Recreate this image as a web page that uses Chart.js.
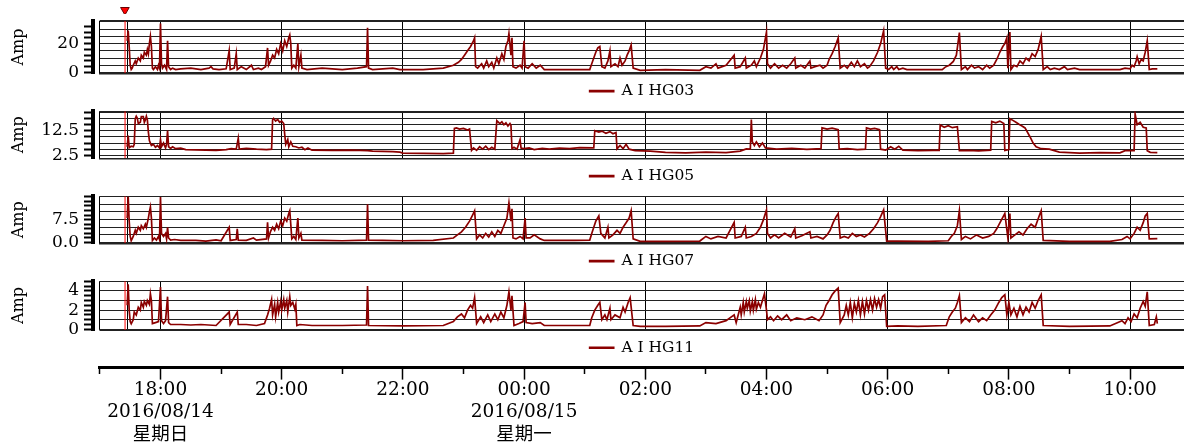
<!DOCTYPE html>
<html><head><meta charset="utf-8">
<script src="https://cdn.jsdelivr.net/npm/chart.js@4.4.1/dist/chart.umd.min.js"></script>
<style>
html,body{margin:0;padding:0;background:#fff;overflow:hidden;width:1184px;height:445px;}
#wrap{position:relative;width:1184px;height:445px;overflow:hidden;background:#fff;}
canvas{position:absolute;left:0;}
</style></head><body><div id="wrap">
<canvas id="c1" width="1184" height="110" style="top:0px"></canvas>
<canvas id="c2" width="1184" height="100" style="top:96px"></canvas>
<canvas id="c3" width="1184" height="100" style="top:181px"></canvas>
<canvas id="c4" width="1184" height="100" style="top:266px"></canvas>
<canvas id="c5" width="1184" height="90" style="top:355px"></canvas>
<canvas id="c0" width="1184" height="20" style="top:0px"></canvas>
</div>
<script>
// ---- data: [minutes after 2016/08/14 17:00, amps] ----
const hg03Points = [[27,22],[28,29],[29,18],[30,5],[31,2],[32,3],[33,5],[35,8],[36,6],[38,10],[40,8],[41,12],[43,10],[44,14],[46,12],[47,16],[48,13],[49,20],[50,25],[51,18],[52,3],[53,2],[55,4],[57,2],[58,5],[59,3],[60,34],[61,6],[62,3],[64,5],[66,2],[67,22],[68,4],[70,2],[72,3],[75,2],[80,2.5],[90,3],[100,2],[108,3],[110,4],[112,2.5],[118,2],[125,2.5],[128,15],[129,2],[133,3],[135,13],[136,2],[140,4],[145,2],[150,5],[152,2],[157,3],[160,2],[164,4],[166,17],[167,5],[169,8],[171,12],[173,10],[175,16],[177,13],[179,20],[181,15],[183,22],[185,18],[187,24],[188,26],[189,20],[190,3],[192,5],[194,3],[196,20],[197,4],[199,12],[200,3],[205,2],[220,3],[240,2],[255,3],[264,4],[265,31],[266,3],[270,2],[290,3],[297,2],[320,2],[340,3],[350,5],[355,7],[358,9],[361,12],[364,15],[367,18],[370,22],[371,24],[372,4],[374,3],[378,6],[380,3],[383,8],[385,4],[388,7],[390,3],[393,10],[395,6],[398,13],[400,9],[402,18],[404,22],[405,27],[407,12],[408,24],[409,4],[412,3],[416,5],[418,3],[420,22],[421,4],[424,3],[428,6],[432,3],[436,5],[440,2],[460,2],[485,2],[487,6],[489,10],[491,14],[493,17],[495,18],[497,4],[500,3],[503,8],[505,15],[506,4],[510,6],[513,4],[515,10],[517,5],[520,8],[522,12],[524,15],[526,19],[528,3],[535,1.5],[560,2],[594,1.5],[600,4],[605,3],[610,6],[612,3],[620,5],[628,12],[629,3],[634,4],[639,10],[640,3],[645,5],[648,8],[650,4],[654,10],[657,16],[660,28],[661,6],[664,3],[668,6],[672,3],[676,5],[680,3],[684,6],[688,10],[689,3],[694,5],[698,3],[703,8],[704,3],[708,4],[713,5],[716,3],[720,5],[722,9],[725,13],[728,18],[731,24],[733,3],[737,5],[740,3],[744,7],[747,4],[750,8],[753,4],[757,6],[760,3],[762,4],[766,8],[770,14],[773,20],[776,29],[778,3],[781,2],[784,4],[786,2],[789,4],[791,2],[795,3],[799,2],[834,2],[837,3.7],[841,5],[845,7.6],[848,12],[851,27.6],[853,2],[857,4],[859,2],[863,5],[866,3],[870,4],[874,2],[878,5],[881,3],[885,5],[888,9],[891,14],[894,18],[896,20],[898,24],[899,3],[901,28],[902,2],[905,5],[908,4],[911,8],[914,6],[917,10],[920,8],[923,13],[926,11],[929,16],[932,25],[934,2],[938,4],[941,2],[945,3],[950,2],[955,4],[958,2],[965,3],[970,2],[1010,2],[1015,3],[1020,2.5],[1022,5],[1024,4],[1026,8],[1027,11],[1029,6],[1031,9],[1033,8],[1035,14],[1037,22],[1039,2],[1042,2.5],[1047,2.5]];

const hg05Points = [[27,6],[28,10.6],[29,5.6],[31,6.2],[33,6],[34,7],[35,17.5],[36,18.5],[37,17.8],[38,15.5],[40,16],[41,18.3],[43,18.3],[44,16],[45,17],[46,18.5],[47,17],[48,12],[49,8.5],[50,7.5],[51,6.5],[53,7],[55,5.8],[57,6.5],[59,5.5],[60,8.9],[61,6],[63,7.5],[65,5.5],[66,7],[67,12.6],[68,6],[70,5.3],[72,6],[75,5.2],[80,5.4],[85,4.8],[95,4.7],[105,4.6],[115,4.5],[125,4.8],[130,5.2],[135,5],[137,9.5],[138,5],[145,5.3],[155,5],[165,4.8],[170,5],[171,17],[172,17.6],[174,16.5],[176,17.2],[178,16],[180,16.5],[182,15.5],[183,11],[184,7],[186,9],[187,6],[189,8],[191,6.2],[194,6],[197,5.5],[200,5.8],[203,4.8],[206,5.5],[210,4.6],[230,4.5],[250,4.6],[265,4.4],[270,4.2],[290,4],[297,3.8],[300,3.4],[320,3.3],[340,3.2],[350,3.4],[351,13.5],[353,13.7],[356,13.2],[360,13.5],[364,12.8],[366,13.2],[368,4.5],[370,5.5],[373,4.5],[376,6],[379,5],[382,6.2],[385,4.8],[388,5.8],[391,5],[393,16.7],[396,15.5],[398,16.2],[400,15],[402,15.8],[404,14.5],[406,15.5],[407,14.8],[408,5.2],[410,5.8],[413,5],[416,8.9],[417,5.5],[420,5.2],[425,5.5],[430,4.8],[438,5.3],[445,5],[455,5.4],[465,5.2],[475,5.6],[489,5.5],[490,12.6],[494,12],[497,12.4],[501,11.5],[505,12.2],[508,11.3],[511,11.8],[512,5.1],[515,6.5],[518,5.2],[521,7],[524,5],[530,4.4],[545,4.2],[560,3.7],[580,3.5],[600,3.8],[620,3.6],[634,4.2],[640,5.1],[644,5],[645,17.1],[646,8],[648,6.5],[650,8],[653,6],[656,7.5],[659,5.5],[670,5],[685,5.3],[700,4.9],[714,5.2],[715,13.7],[720,13.2],[725,13.6],[731,13],[732,5],[740,5.2],[750,4.8],[758,5],[759,13.7],[763,13.2],[767,13.5],[772,13],[773,5],[778,4.6],[783,6],[787,5],[791,6.2],[795,4.6],[810,4.4],[825,4.5],[831,4.5],[832,14.9],[836,14],[840,14.6],[844,13.8],[849,14.2],[851,4.4],[860,4.5],[870,4.3],[882,4.6],[883,16.4],[887,15.8],[891,16.5],[895,15.5],[896,4.5],[900,4.8],[901,17.5],[904,16.8],[907,16],[910,15.2],[913,14.5],[916,13.7],[921,10],[924,7.5],[927,6],[932,5.2],[940,5],[950,3.8],[970,3.4],[990,3.6],[1010,3.5],[1015,4.4],[1024,4.4],[1025,19.4],[1027,15],[1030,16],[1033,14],[1036,13.7],[1037,4.4],[1040,3.7],[1047,3.6]];

const hg07Points = [[27,8],[28,15],[29,7],[30,2],[31,0.6],[33,2],[35,4],[36,3],[38,5],[40,4],[41,5.5],[43,4.5],[45,6],[46,5],[48,8],[49,10],[50,11.6],[51,8],[52,0.7],[54,1.5],[56,0.8],[58,2],[59,1],[60,14.9],[61,3],[63,2],[65,3],[66,1.2],[67,5],[68,1.5],[70,0.8],[74,1],[80,0.7],[95,0.7],[105,0.5],[115,0.9],[120,0.6],[128,5],[129,0.7],[135,1],[136,4.5],[137,0.8],[145,0.7],[152,1.5],[155,0.8],[165,1.2],[166,6.6],[167,1.5],[169,3.7],[171,5],[173,4],[175,6],[177,4.5],[179,7],[181,5.5],[183,8],[185,7],[187,9.5],[188,10.4],[189,6],[190,1.2],[192,2],[194,1],[196,8],[197,1.5],[199,3],[200,0.8],[220,0.7],[240,0.6],[264,0.8],[265,12.5],[266,0.8],[280,0.7],[300,0.6],[330,0.7],[350,1.5],[354,2.5],[358,3.5],[362,5],[366,7],[369,9],[371,10.4],[373,1.2],[376,2.5],[379,1.5],[382,3],[385,1.8],[388,3.5],[391,2],[394,4],[397,3],[400,5.5],[403,8],[405,13],[407,7],[408,11],[409,1.5],[412,1.2],[416,2],[419,1.2],[421,8],[422,1.5],[426,1.5],[430,2.5],[436,1.2],[440,0.7],[470,0.7],[485,0.8],[487,3],[489,5],[491,7],[494,8.7],[496,3],[500,1.5],[503,5],[504,1.5],[508,2.5],[512,4],[515,3],[518,5],[521,6.5],[524,8],[526,10.4],[528,1.2],[535,0.4],[560,0.4],[594,0.5],[600,2],[605,1.2],[612,2],[620,1.5],[628,6.6],[629,1.5],[635,2],[639,5],[640,1.5],[645,2],[650,3],[654,5],[657,7.5],[660,10.7],[661,3],[664,1.5],[668,2.5],[672,1.5],[678,3],[684,1.8],[688,4.5],[689,1.5],[695,2.2],[703,3.5],[704,1.5],[710,2],[716,1.2],[720,2.5],[723,4],[726,6.5],[729,8.5],[731,9.5],[733,1.5],[737,2],[741,1.5],[745,3],[749,2],[753,2.5],[757,1.8],[762,3],[766,4.5],[770,6.5],[773,8.5],[776,10.7],[779,0.5],[790,0.5],[820,0.4],[840,0.6],[843,2],[846,3],[849,5.5],[851,10.4],[853,1],[857,2],[862,1.2],[868,2.5],[874,1.5],[880,2],[885,3],[888,4.5],[892,7],[896,9.5],[899,1.5],[901,9.5],[902,1.5],[906,2.5],[910,3.5],[914,2.5],[918,4.5],[922,6],[926,5],[930,8.7],[932,10.4],[934,0.7],[960,0.4],[1000,0.4],[1012,1],[1017,2],[1020,1.2],[1024,3],[1027,5],[1030,4],[1033,6.5],[1035,8.7],[1037,9.5],[1039,1.2],[1047,1.3]];

const hg11Points = [[27,2.5],[28,4.7],[29,2],[30,0.8],[31,0.57],[33,1],[34,1.8],[36,1.5],[38,2.3],[40,2],[41,2.8],[43,2.3],[44,2.9],[46,2.5],[47,3],[49,2.6],[50,3.7],[51,3],[52,0.6],[55,0.7],[58,0.8],[60,4.4],[61,0.9],[63,0.6],[65,0.9],[67,3.4],[68,0.7],[70,0.5],[80,0.5],[90,0.45],[100,0.5],[115,0.4],[128,1.8],[129,0.5],[136,1.8],[137,0.5],[145,0.5],[155,0.4],[163,0.6],[166,1.5],[168,2.2],[170,3.1],[171,1.5],[173,2.6],[174,1.3],[176,2.8],[177,1.8],[179,2.9],[180,2],[182,3.1],[183,2.2],[185,3],[186,1.8],[188,3.4],[189,2.5],[191,2.8],[193,2.1],[194,2.6],[195,0.4],[198,0.5],[210,0.4],[240,0.4],[264,0.45],[265,4.5],[266,0.4],[300,0.35],[340,0.4],[350,0.8],[354,1.3],[358,1.6],[361,1.2],[364,2],[367,2.5],[369,2.2],[371,3.3],[373,0.6],[377,1.3],[380,0.7],[384,1.5],[387,0.8],[391,1.6],[394,1],[397,1.8],[400,1.2],[403,2.5],[405,3.9],[407,2],[408,3.5],[410,0.4],[415,0.6],[419,0.8],[421,2.8],[422,0.7],[428,0.6],[436,0.7],[440,0.4],[485,0.4],[487,1.2],[490,2],[493,2.5],[495,2.8],[497,1],[500,1.5],[502,1],[505,2.2],[506,1],[510,1.5],[515,1.2],[518,2.3],[520,1.8],[523,2.8],[525,3.3],[528,0.4],[535,0.3],[560,0.3],[594,0.35],[600,0.7],[610,0.6],[620,0.9],[628,1.5],[630,0.7],[634,2.3],[635,1.5],[637,2.8],[638,1.8],[640,2.9],[641,2.2],[643,3],[644,1.9],[646,2.9],[647,2],[649,3.1],[650,2.1],[652,2.8],[654,2.3],[656,3],[658,3.7],[660,2],[661,1],[664,1.3],[667,0.9],[671,1.4],[675,1],[680,1.5],[684,0.9],[690,1.2],[698,1],[705,1.3],[712,0.9],[716,1.5],[719,2.5],[722,3],[725,3.6],[728,4],[731,4.3],[733,0.7],[737,1.5],[739,2.5],[741,1.5],[743,2.8],[745,1.2],[747,2.7],[749,1.8],[751,3],[753,1.5],[755,2.9],[757,1.6],[759,3],[761,2],[763,3.1],[765,2],[767,3.2],[769,2.3],[771,3.1],[773,2.2],[775,3.4],[777,3.6],[779,0.3],[790,0.35],[810,0.3],[838,0.4],[841,1.3],[844,1.8],[847,2.2],[849,2.8],[851,3.5],[853,0.7],[857,1.2],[861,0.8],[865,1.5],[870,0.8],[874,1.2],[878,0.9],[882,1.5],[886,2],[890,2.8],[893,3.3],[896,3.6],[898,1.5],[900,2.8],[902,1.5],[905,2.2],[908,1.3],[911,2.4],[914,1.5],[917,2.3],[920,1.8],[923,2.8],[926,2.2],[929,3],[932,3.6],[934,0.4],[960,0.3],[1000,0.35],[1012,0.9],[1015,0.6],[1018,1.2],[1021,0.8],[1024,1.6],[1027,1.2],[1030,2.2],[1033,2.9],[1035,2.4],[1037,3.9],[1039,0.4],[1044,0.5],[1046,1.3],[1047,0.6]];

const seriesNames = ['A I HG03', 'A I HG05', 'A I HG07', 'A I HG11'];
const yRanges = [[-0.6, 35.9], [1.26, 20.56], [-0.24, 15.15], [-0.07, 5.01]];
const yGridSteps = [5, 2.5, 2.5, 1];
const yMinorSteps = [4, 2.5, 1.5, 0.5];
const yLabelTicks = [[0, 20], [2.5, 12.5], [0, 7.5], [0, 2, 4]];
const yLabelDecimals = [0, 1, 1, 0];
const yTitle = 'Amp';

const xVerticalLines = [0, 27.5, 60, 180, 300, 420, 540, 660, 780, 900, 1020]; // minutes after 17:00
const cursorMinute = 24.9;
const xMaxMinute = 1073.4;
const hourTicks = [0,60,120,180,240,300,360,420,480,540,600,660,720,780,840,900,960,1020];
const hourLabels = ['', ['18:00','2016/08/14','星期日'], '', '20:00', '', '22:00', '', ['00:00','2016/08/15','星期一'], '', '02:00', '', '04:00', '', '06:00', '', '08:00', '', '10:00'];

// ---- layout ----
const SERIF = "'DejaVu Serif', 'Noto Sans CJK SC', serif";
const LINE_COLOR = '#8b0000';
const panelIds = ['c1','c2','c3','c4'];
const panelPadTop = [20.7, 10.7, 10, 10.7];
const panelPadBottom = [1.2, 2.2, 2.2, 0.5];
const allPoints = [hg03Points, hg05Points, hg07Points, hg11Points];

function stepValues(min, max, step) {
  const out = [];
  for (let k = Math.ceil(min / step - 1e-9); k * step <= max + 1e-9; k++) out.push(Math.round(k * step * 1000) / 1000);
  return out;
}

panelIds.forEach((id, i) => {
  const [ymin, ymax] = yRanges[i];
  const gridVals = stepValues(ymin, ymax, yGridSteps[i]).concat([ymin, ymax]);
  const combVals = stepValues(ymin, ymax, yMinorSteps[i]);
  const labels = yLabelTicks[i];
  const datasets = [{
    label: seriesNames[i],
    data: allPoints[i].map(p => ({x: p[0], y: p[1]})),
    borderColor: LINE_COLOR, backgroundColor: LINE_COLOR,
    borderWidth: 1.7, pointRadius: 0, pointHoverRadius: 0, tension: 0, yAxisID: 'y'
  }, {
    label: 'cursor',
    data: [{x: cursorMinute, y: ymin}, {x: cursorMinute, y: ymax}],
    borderColor: '#ff0000', borderWidth: 1, pointRadius: 0, yAxisID: 'y'
  }];
  new Chart(document.getElementById(id), {
    type: 'line',
    data: { datasets },
    options: {
      responsive: false, animation: false, devicePixelRatio: 1, events: [],
      layout: { padding: { left: 0, right: 0, top: panelPadTop[i], bottom: panelPadBottom[i] } },
      plugins: {
        tooltip: { enabled: false },
        legend: {
          position: 'bottom', fullSize: false, align: 'center',
          labels: { boxWidth: 24, boxHeight: 1, padding: 0, color: '#000',
            font: { family: SERIF, size: 15.5 },
            filter: item => item.datasetIndex === 0 }
        }
      },
      scales: {
        x: {
          type: 'linear', min: 0, max: xMaxMinute,
          afterFit: s => { s.height = 10; },
          afterBuildTicks: s => { s.ticks = xVerticalLines.map(v => ({value: v})); },
          ticks: { display: false },
          grid: { drawTicks: false, color: '#000', lineWidth: 1 },
          border: { display: true, color: '#222', width: 1.5 }
        },
        y: {
          type: 'linear', position: 'left', min: ymin, max: ymax, weight: 0,
          afterFit: s => { s.width = 6.9; },
          afterBuildTicks: s => { s.ticks = gridVals.map(v => ({value: v})); },
          ticks: { display: false },
          grid: { drawTicks: false, color: '#222', lineWidth: 1 },
          border: { display: false }
        },
        yc: {
          type: 'linear', position: 'left', min: ymin, max: ymax, weight: 1,
          afterFit: s => { s.width = 93; },
          afterBuildTicks: s => { s.ticks = combVals.map(v => ({value: v})); },
          ticks: {
            autoSkip: false, padding: 5, color: '#000',
            font: { family: SERIF, size: 17 },
            callback: v => labels.some(l => Math.abs(l - v) < 1e-6) ? Number(v).toFixed(yLabelDecimals[i]) : ''
          },
          grid: { drawOnChartArea: false, drawTicks: true, tickLength: 9, tickColor: '#000', tickWidth: 2 },
          border: { display: true, color: '#000', width: 4 },
          title: { display: true, text: yTitle, color: '#000', font: { family: SERIF, size: 16 }, padding: { top: 9, bottom: 0 } }
        }
      }
    }
  });
});

// ---- cursor marker above the first panel ----
new Chart(document.getElementById('c0'), {
  type: 'line',
  data: { datasets: [{
    label: 'cursor marker', data: [{x: cursorMinute, y: 0.5}], showLine: false,
    pointStyle: 'triangle', rotation: 180, pointRadius: 5, pointHoverRadius: 5,
    pointBackgroundColor: '#ff0000', pointBorderColor: '#6a0000', pointBorderWidth: 1
  }] },
  options: {
    responsive: false, animation: false, devicePixelRatio: 1, events: [],
    layout: { padding: { left: 99.9, right: 0, top: 0, bottom: 0 } },
    plugins: { legend: { display: false }, tooltip: { enabled: false } },
    scales: {
      x: { type: 'linear', display: false, min: 0, max: xMaxMinute },
      y: { type: 'linear', display: false, min: 0, max: 1 }
    }
  }
});

// ---- shared time axis ----
new Chart(document.getElementById('c5'), {
  type: 'line',
  data: { datasets: [] },
  options: {
    responsive: false, animation: false, devicePixelRatio: 1, events: [],
    layout: { padding: { left: 99.9, right: 0, top: 11.6, bottom: 0 } },
    plugins: { legend: { display: false }, tooltip: { enabled: false } },
    scales: {
      x: {
        type: 'linear', position: 'bottom', min: 0, max: xMaxMinute,
        afterFit: s => { s.height = 90 - 11.6 - 1; },
        afterBuildTicks: s => { s.ticks = hourTicks.map(v => ({value: v})); },
        ticks: {
          autoSkip: false, maxRotation: 0, minRotation: 0, padding: -1, color: '#000',
          font: { family: SERIF, size: 18.5, lineHeight: 1.22 },
          callback: (v) => hourLabels[hourTicks.indexOf(v)]
        },
        grid: {
          drawOnChartArea: false, drawTicks: true, tickLength: 12, tickWidth: 1.5, tickColor: '#000',
          tickBorderDash: ctx => (ctx.index % 2 === 0 ? [5, 60] : [])
        },
        border: { display: true, color: '#000', width: 3 }
      },
      y: { display: false, min: 0, max: 1 }
    }
  }
});
</script>
</body></html>
